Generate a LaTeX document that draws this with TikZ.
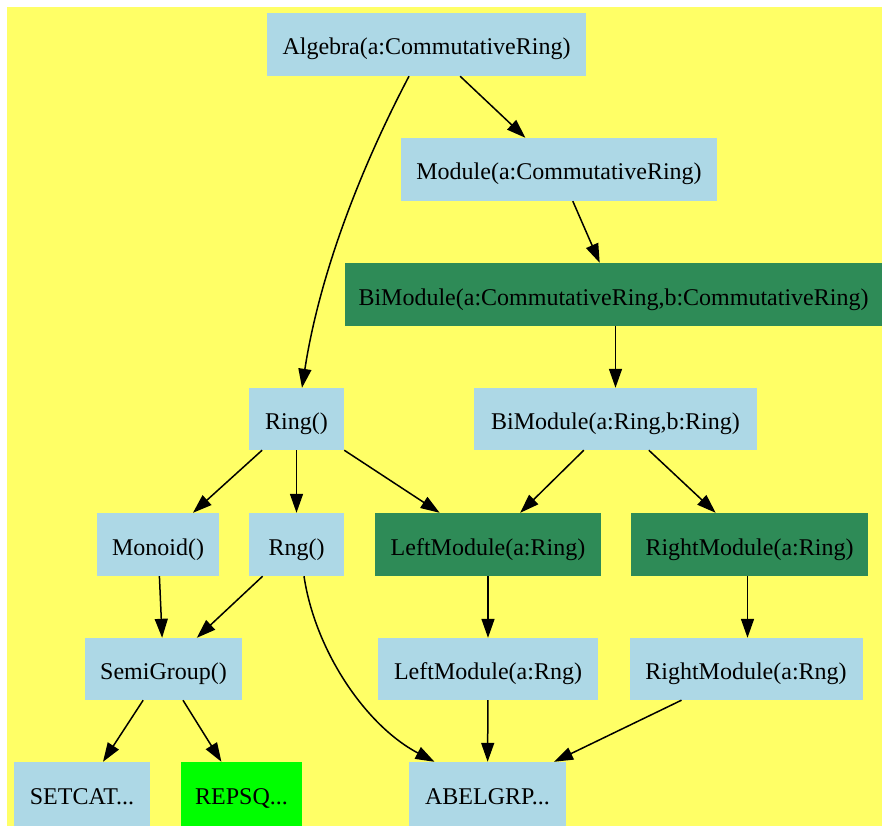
\documentclass[tikz,border=0pt]{standalone}
\usepackage{fontspec}
\setmainfont{Liberation Serif}
\usetikzlibrary{arrows.meta,calc}
\definecolor{bgyellow}{HTML}{FFFF66}
\definecolor{nodeblue}{HTML}{ADD8E6}
\definecolor{nodegreen}{HTML}{2E8B57}
\definecolor{brightgreen}{HTML}{00FF00}
\begin{document}
\begin{tikzpicture}[x=1pt,y=-1pt,
  box/.style={rectangle,inner sep=0pt,fill=nodeblue,font=\fontsize{24}{28}\selectfont,text=black,text height=21pt,text depth=0pt},
  dark/.style={box,fill=nodegreen},
  bright/.style={box,fill=brightgreen},
  edge/.style={line width=1.5pt,-{Triangle[length=19pt,width=13pt]}}]
\useasboundingbox (0,0) rectangle (882,826);
\fill[white] (0,0) rectangle (882,826);
\fill[bgyellow] (7,7) rectangle (882,826);
% nodes
\node[box,minimum width=319pt,minimum height=63pt] (alg) at (426.5,44.5) {Algebra(a:CommutativeRing)};
\node[box,minimum width=316pt,minimum height=63pt] (mod) at (559,169.5) {Module(a:CommutativeRing)};
\node[dark,minimum width=537pt,minimum height=63pt] (bmcr) at (613.5,294.5) {BiModule(a:CommutativeRing,b:CommutativeRing)};
\node[box,minimum width=95pt,minimum height=62pt] (ring) at (296.5,419) {Ring()};
\node[box,minimum width=283pt,minimum height=62pt] (bmr) at (615.5,419) {BiModule(a:Ring,b:Ring)};
\node[box,minimum width=122pt,minimum height=63pt] (mon) at (158,544.5) {Monoid()};
\node[box,minimum width=95pt,minimum height=63pt] (rng) at (296.5,544.5) {Rng()};
\node[dark,minimum width=226pt,minimum height=63pt] (lmring) at (488,544.5) {LeftModule(a:Ring)};
\node[dark,minimum width=237pt,minimum height=63pt] (rmring) at (749.5,544.5) {RightModule(a:Ring)};
\node[box,minimum width=157pt,minimum height=62pt] (semi) at (163.5,669) {SemiGroup()};
\node[box,minimum width=220pt,minimum height=62pt] (lmrng) at (488,669) {LeftModule(a:Rng)};
\node[box,minimum width=233pt,minimum height=62pt] (rmrng) at (746,669) {RightModule(a:Rng)};
\node[box,minimum width=136pt,minimum height=64pt] (setcat) at (82,794) {SETCAT...};
\node[bright,minimum width=121pt,minimum height=64pt] (repsq) at (241.5,794) {REPSQ...};
\node[box,minimum width=157pt,minimum height=64pt] (abel) at (487.5,794) {ABELGRP...};
% edges
\draw[edge] (alg) -- (mod);
\draw[edge] ([xshift=-17.5pt]alg.south) .. controls (354,181) and (318,284) .. ([xshift=5.5pt]ring.north);
\draw[edge] (mod) -- (bmcr);
\draw[edge] (bmr.north |- bmcr.south) -- (bmr.north);
\draw[edge] (ring) -- (mon);
\draw[edge] (ring) -- (rng);
\draw[edge] (ring) -- (lmring);
\draw[edge] (bmr) -- (lmring);
\draw[edge] (bmr) -- (rmring);
\draw[edge] (mon) -- (semi);
\draw[edge] (rng) -- (semi);
\draw[edge] ([xshift=7.5pt]rng.south) .. controls (315,650) and (365,725) .. ([xshift=-53pt]abel.north);
\draw[edge] (lmring) -- (lmrng);
\draw[edge] ([xshift=1.5pt]rmrng.north |- rmring.south) -- ([xshift=1.5pt]rmrng.north);
\draw[edge] (lmrng) -- (abel);
\draw[edge] (rmrng) -- (abel);
\draw[edge] (semi) -- (setcat);
\draw[edge] (semi) -- (repsq);
\end{tikzpicture}
\end{document}
